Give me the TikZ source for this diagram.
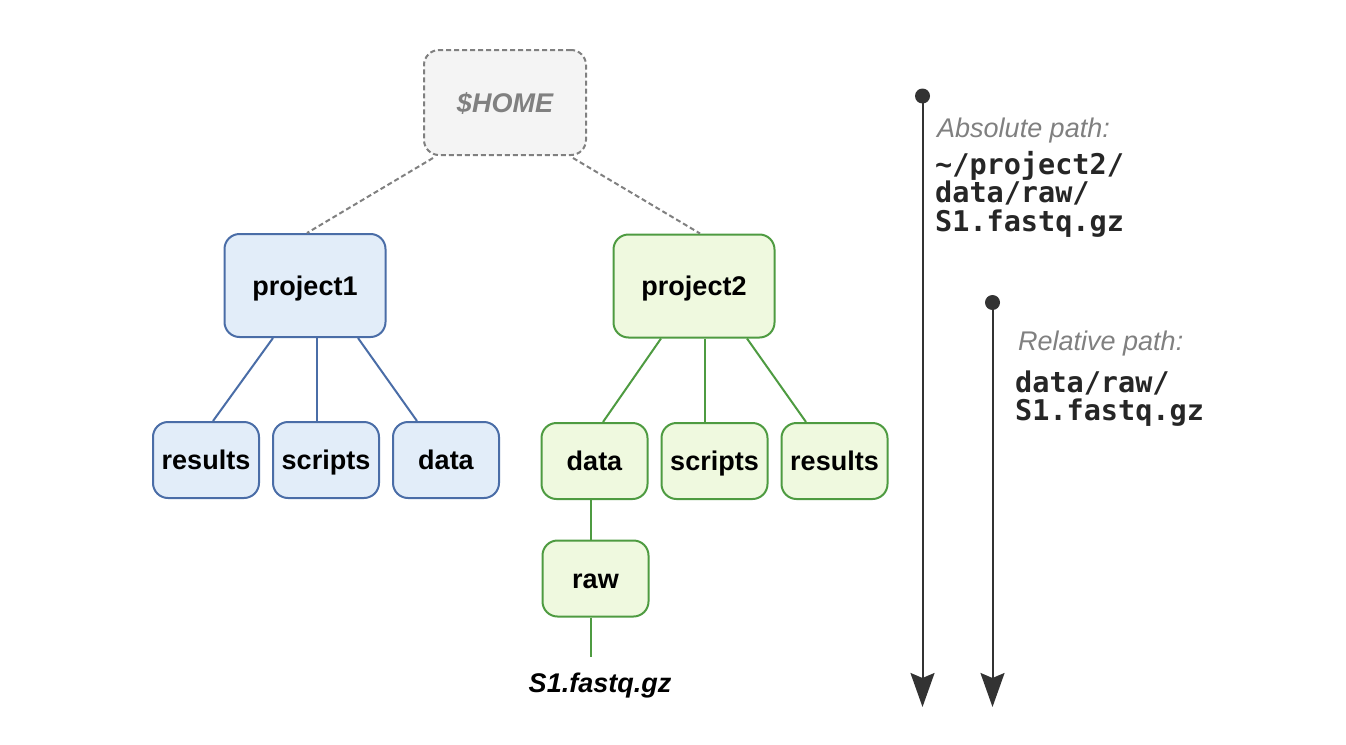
\documentclass[tikz,border=0pt]{standalone}
\usepackage{fontspec}
\setmainfont{Liberation Sans}
\setmonofont{DejaVu Sans Mono}
\usetikzlibrary{arrows.meta}
\definecolor{bfill}{HTML}{E2EDF9}
\definecolor{bline}{HTML}{4A6DA7}
\definecolor{gfill}{HTML}{EFF9DF}
\definecolor{gline}{HTML}{4E9B41}
\definecolor{hfill}{HTML}{F4F4F4}
\definecolor{hline}{HTML}{808080}
\definecolor{dark}{HTML}{333333}
\begin{document}
\begin{tikzpicture}[x=1pt,y=-1pt,
  box/.style={rounded corners=15pt, line width=2pt, inner sep=0pt,
    font=\fontsize{27}{32}\selectfont\bfseries, text height=19.4pt, text depth=0pt},
  bluebox/.style={box, draw=bline, fill=bfill},
  greenbox/.style={box, draw=gline, fill=gfill},
  homebox/.style={box, draw=hline, fill=hfill, dash pattern=on 5pt off 3pt,
    text=hline, font=\fontsize{27}{32}\selectfont\bfseries\itshape},
  bigbox/.style={minimum width=161pt, minimum height=103pt},
  smallbox/.style={minimum width=106pt, minimum height=76pt},
  bedge/.style={draw=bline, line width=2pt},
  gedge/.style={draw=gline, line width=2pt},
  hedge/.style={draw=hline, line width=2pt, dash pattern=on 5pt off 3pt},
  filelbl/.style={inner sep=0pt, font=\fontsize{27}{32}\selectfont\bfseries\itshape,
    text height=19.4pt, text depth=0pt},
  pathlbl/.style={inner sep=0pt, anchor=base west, text=hline,
    font=\fontsize{27}{32}\selectfont\itshape},
  codelbl/.style={inner sep=0pt, anchor=base west, text=black!85,
    font=\fontsize{28.5}{28.5}\selectfont\ttfamily\bfseries},
  dotnode/.style={circle, fill=dark, inner sep=0pt, minimum size=15pt},
  pathline/.style={draw=dark, line width=2pt,
    -{Stealth[length=34pt, width=24pt, inset=5pt]}}
]
\useasboundingbox (0,0) rectangle (1346,744);

% nodes
\node[homebox, minimum width=162pt, minimum height=105pt] (home) at (505,102.5) {\$HOME};
\node[bluebox, bigbox] (p1) at (305,285.5) {project1};
\node[greenbox, bigbox] (p2) at (694,286) {project2};

\node[bluebox, smallbox] (r1) at (206,460) {results};
\node[bluebox, smallbox] (s1) at (326,460) {scripts};
\node[bluebox, smallbox] (d1) at (446,460) {data};

\node[greenbox, smallbox] (d2) at (594.5,461) {data};
\node[greenbox, smallbox] (s2) at (714.5,461) {scripts};
\node[greenbox, smallbox] (r2) at (834.5,461) {results};

\node[greenbox, smallbox] (raw) at (595.5,578.5) {raw};
\node[filelbl] (file) at (600,683) {S1.fastq.gz};
\coordinate (fileend) at (591,657);

% home edges
\draw[hedge] ([xshift=-72pt,yshift=-2pt]home.south) -- ([xshift=2pt]p1.north);
\draw[hedge] ([xshift=68pt,yshift=-2pt]home.south) -- ([xshift=6pt]p2.north);

% project1 edges
\draw[bedge] ([xshift=-32pt]p1.south) -- ([xshift=7pt]r1.north);
\draw[bedge] ([xshift=12pt]p1.south) -- ([xshift=-9pt]s1.north);
\draw[bedge] ([xshift=53pt]p1.south) -- ([xshift=-29pt]d1.north);

% project2 edges
\draw[gedge] ([xshift=-33pt]p2.south) -- ([xshift=8.5pt]d2.north);
\draw[gedge] ([xshift=11pt]p2.south) -- ([xshift=-9.5pt]s2.north);
\draw[gedge] ([xshift=53pt]p2.south) -- ([xshift=-28.5pt]r2.north);

% data -> raw -> file
\draw[gedge] ([xshift=-3.5pt]d2.south) -- ([xshift=-4.5pt]raw.north);
\draw[gedge] ([xshift=-4.5pt]raw.south) -- (fileend);

% path indicators
\node[dotnode] (absdot) at (922.5,96) {};
\coordinate (absend) at (922.5,707);
\draw[pathline] (absdot.center) -- (absend);
\node[pathlbl] (abstitle) at (937,137) {Absolute path:};
\node[codelbl] (abscode) at (935,174) {\vtop{\hbox{\textasciitilde/project2/}\hbox{data/raw/}\hbox{S1.fastq.gz}}};

\node[dotnode] (reldot) at (992.5,302.5) {};
\coordinate (relend) at (992.5,707);
\draw[pathline] (reldot.center) -- (relend);
\node[pathlbl] (reltitle) at (1018,350) {Relative path:};
\node[codelbl] (relcode) at (1015,392) {\vtop{\hbox{data/raw/}\hbox{S1.fastq.gz}}};
\end{tikzpicture}
\end{document}
